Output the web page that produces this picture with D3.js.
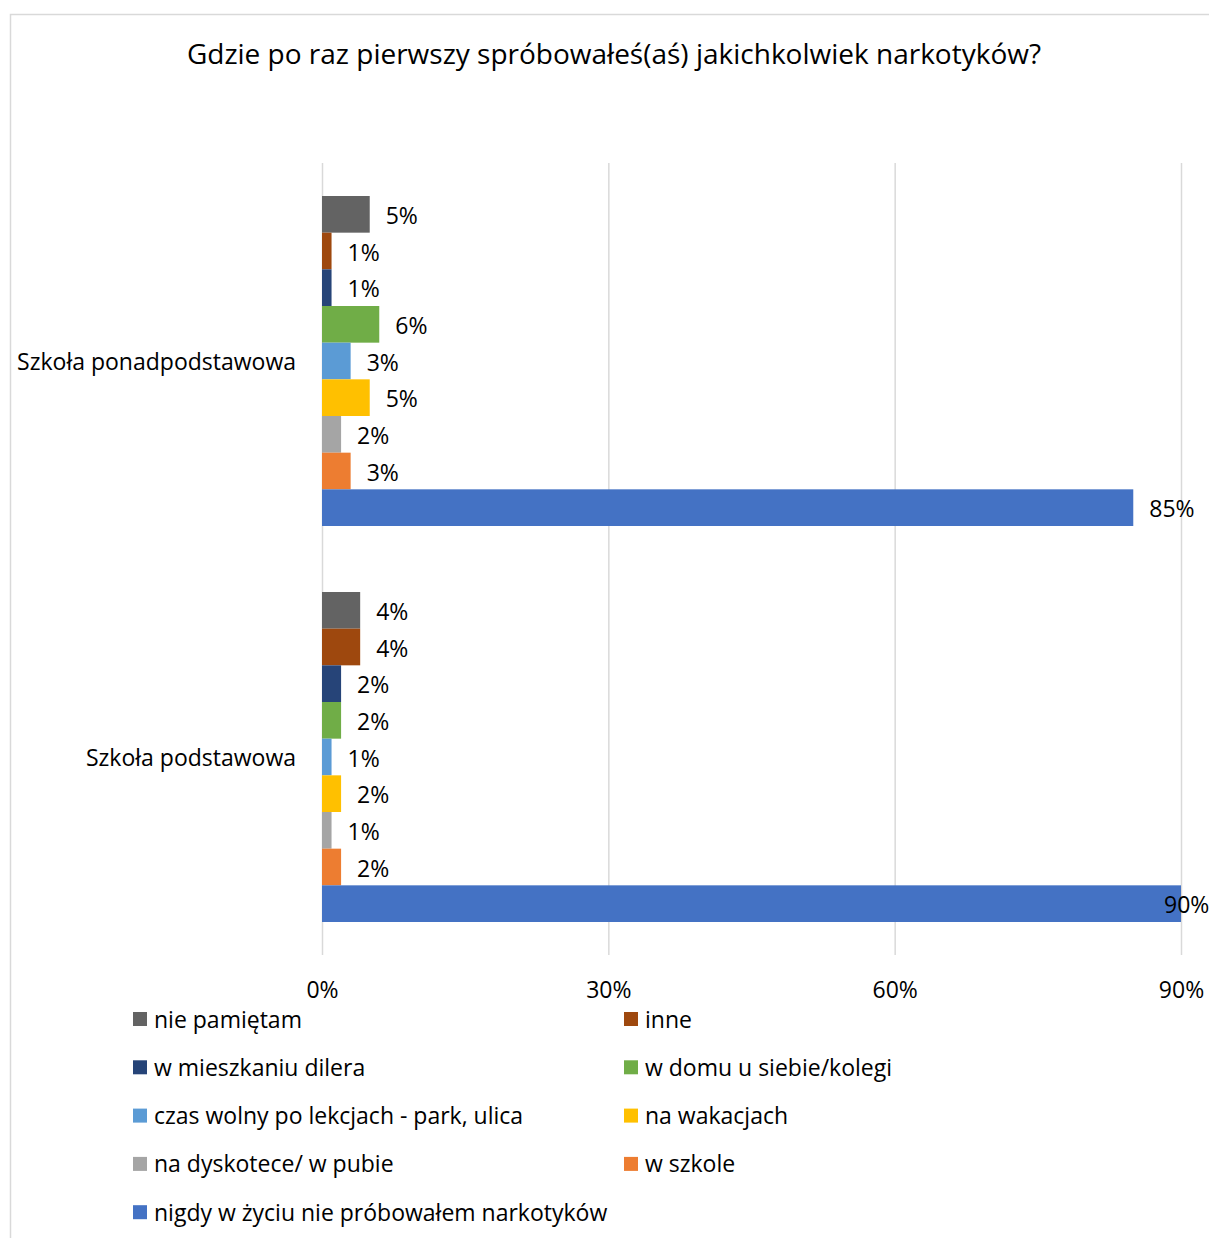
<!DOCTYPE html>
<html><head><meta charset="utf-8">
<script src="https://cdn.jsdelivr.net/npm/d3@7"></script>
<style>
html,body{margin:0;padding:0;background:#fff;overflow:hidden}
text{font-family:"Open Sans",sans-serif;fill:#000}
</style></head>
<body>
<script>
const title = "Gdzie po raz pierwszy spróbowałeś(aś) jakichkolwiek narkotyków?";
const categories = ["Szkoła ponadpodstawowa", "Szkoła podstawowa"];
const seriesNames = ["nie pamiętam","inne","w mieszkaniu dilera","w domu u siebie/kolegi","czas wolny po lekcjach - park, ulica","na wakacjach","na dyskotece/ w pubie","w szkole","nigdy w życiu nie próbowałem narkotyków"];
const seriesColors = ["#636363","#9E480E","#264478","#70AD47","#5B9BD5","#FFC000","#A5A5A5","#ED7D31","#4472C4"];
const valuesPonadpodstawowa = [5,1,1,6,3,5,2,3,85];
const valuesPodstawowa = [4,4,2,2,1,2,1,2,90];
const xTicks = [0,30,60,90];

const values = [valuesPonadpodstawowa, valuesPodstawowa];
const W = 1209, H = 1238;
const svg = d3.select("body").append("svg").attr("width",W).attr("height",H);

svg.append("rect").attr("x",10.5).attr("y",14.5).attr("width",W).attr("height",H)
  .attr("fill","#fff").attr("stroke","#d9d9d9").attr("stroke-width",1.5);

svg.append("text").attr("x",614).attr("y",64).attr("text-anchor","middle")
  .style("font-size","28px").text(title);

const plot = {left:322, right:1181, top:163, bottom:955};
const x = d3.scaleLinear().domain([0,90]).range([plot.left, plot.right]);
const y0 = d3.scaleBand().domain(categories).range([plot.top, plot.bottom]).paddingInner(1/6).paddingOuter(1/12);
const y1 = d3.scaleBand().domain(seriesNames).range([0, y0.bandwidth()]).padding(0);

// gridlines
svg.append("g").selectAll("line").data(xTicks).join("line")
  .attr("x1",d=>x(d)+0.5).attr("x2",d=>x(d)+0.5)
  .attr("y1",plot.top).attr("y2",plot.bottom)
  .attr("stroke","#d9d9d9").attr("stroke-width",1.5);

// axis labels
const xAxis = d3.axisBottom(x).tickValues(xTicks).tickFormat(d=>d+"%").tickSize(0).tickPadding(0);
const ax = svg.append("g").attr("transform",`translate(0,${plot.bottom})`).call(xAxis);
ax.select(".domain").remove();
ax.selectAll("text").attr("dy",0).attr("y",43).style("font-size","23px").style("font-family","'Open Sans',sans-serif").attr("fill","#000");

// category labels
svg.append("g").selectAll("text").data(categories).join("text")
  .attr("x",296).attr("y",d=>y0(d)+y0.bandwidth()/2).attr("dy","0.37em")
  .attr("text-anchor","end").style("font-size","23px").text(d=>d);

// bars
categories.forEach((c,ci)=>{
  const g = svg.append("g").attr("transform",`translate(0,${y0(c)})`);
  g.selectAll("rect").data(seriesNames).join("rect")
    .attr("x",x(0)).attr("y",d=>y1(d))
    .attr("width",(d,i)=>x(values[ci][i])-x(0))
    .attr("height",y1.bandwidth())
    .attr("fill",(d,i)=>seriesColors[i]);
  g.selectAll("text").data(seriesNames).join("text")
    .attr("x",(d,i)=>Math.min(x(values[ci][i])+16, 1164))
    .attr("y",d=>y1(d)+y1.bandwidth()/2).attr("dy","0.42em")
    .style("font-size","23px")
    .text((d,i)=>values[ci][i]+"%");
});

// legend
const legend = svg.append("g");
seriesNames.forEach((s,i)=>{
  const col = i%2, row = Math.floor(i/2);
  const lx = col===0 ? 133 : 624;
  const ly = 1019 + row*48.3;
  legend.append("rect").attr("x",lx).attr("y",ly-7).attr("width",14).attr("height",14).attr("fill",seriesColors[i]);
  legend.append("text").attr("x",lx+21).attr("y",ly).attr("dy","0.37em").style("font-size","23px").text(s);
});
</script>
</body></html>
